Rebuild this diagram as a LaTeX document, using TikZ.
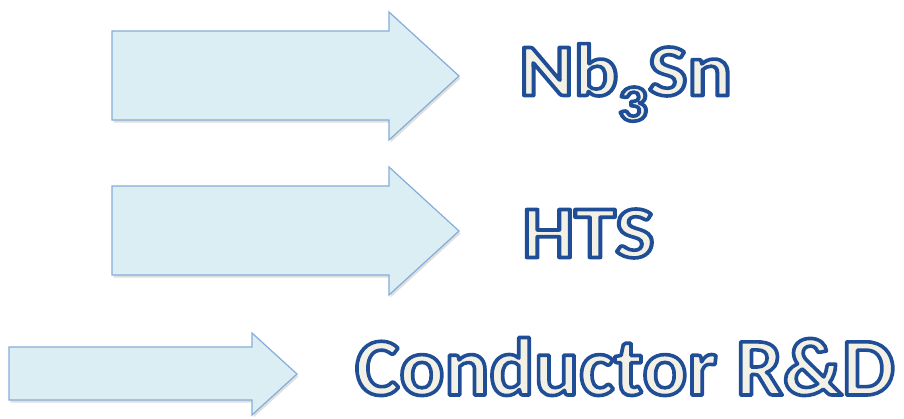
\documentclass[tikz,border=0pt]{standalone}
\usepackage{fontspec}
\setmainfont{Carlito}
\usepackage{graphicx}
\usepackage{tikz}
\usetikzlibrary{shadows}
\definecolor{arrfill}{HTML}{DBEEF4}
\definecolor{arredge}{HTML}{86ACD8}
\definecolor{ink}{HTML}{1F4E96}
\definecolor{cream}{HTML}{F3F1E6}
\tikzset{
  blk/.style={fill=arrfill, draw=arredge, line width=1.2pt, line join=miter,
    drop shadow={opacity=0.25, shadow xshift=1.5pt, shadow yshift=-2.5pt}},
  word/.style={anchor=base west, inner sep=0pt, text=cream,
    font=\bfseries\fontsize{74}{80}\selectfont},
}
% cream letters with a dark blue rim (fill+stroke render mode)
\newcommand{\outl}[2][1]{\scalebox{#1}[1]{\special{pdf:code 0.122 0.306 0.588 RG 2 Tr 3.6 w 1 j}#2\special{pdf:code 0 Tr}}}

\begin{document}
\begin{tikzpicture}[x=1pt, y=-1pt]
  \useasboundingbox (0,0) rectangle (904,418);

  % block arrows: body left/top/bottom, head x/top/bottom, tip x
  \foreach \xl/\yt/\yb/\xh/\ht/\hb/\xt in {112/31/120/389/12/140/459,
      112/186/275/389/167/295/459, 9/347/400/252/333/415/297}
    \draw[blk] (\xl,\yt) -- (\xh,\yt) -- (\xh,\ht) -- (\xt,{(\ht+\hb)/2})
      -- (\xh,\hb) -- (\xh,\yb) -- (\xl,\yb) -- cycle;

  \node[word] (nbsn) at (519,95.5) {\outl[1.12]{Nb\textsubscript{3}Sn}};
  \node[word] (hts)  at (522,257.5) {\outl[1.12]{HTS}};
  \node[word, font=\bfseries\fontsize{82}{88}\selectfont] (cond) at (355,395) {\outl[1.02]{Conductor R\&D}};
\end{tikzpicture}
\end{document}
